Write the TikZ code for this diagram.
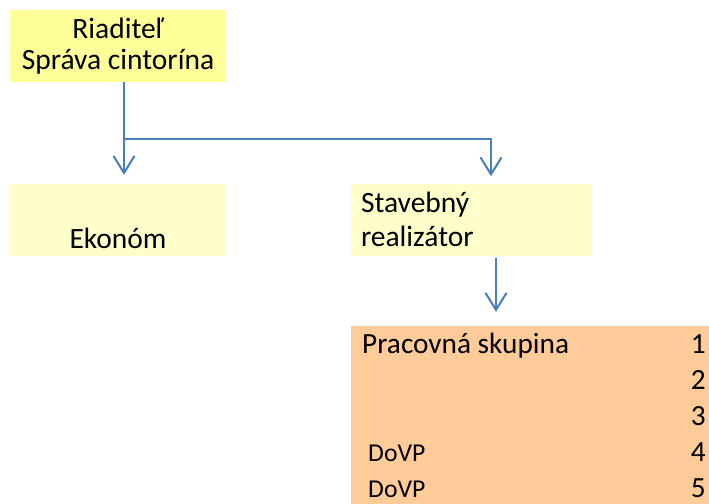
\documentclass[tikz,border=0pt]{standalone}
\usepackage{fontspec}
\setmainfont{Carlito}
\usepackage{tikz}
\usetikzlibrary{arrows.meta}
\definecolor{boss}{HTML}{FFFF99}
\definecolor{staff}{HTML}{FFFFCC}
\definecolor{crew}{HTML}{FFCC99}
\definecolor{wire}{HTML}{4A7EBB}
\tikzstyle{box}   = [inner sep=0pt, minimum height=72pt, font=\fontsize{29.5}{34}\selectfont]
\tikzstyle{row}   = [inner sep=0pt, font=\fontsize{29.3}{36}\selectfont]
\tikzstyle{arrow} = [wire, line width=2pt, -{Straight Barb[length=17pt,width=21pt]}]

\begin{document}
\begin{tikzpicture}[x=1pt,y=-1pt]
  \useasboundingbox (0,0) rectangle (709,503);

  %put the boxes on top
  \node[box, fill=boss, minimum width=216pt, align=center] (riad) at (118,46) {Riaditeľ\\[-3.5pt]Správa cintorína};
  \node[box, fill=staff, minimum width=216pt, align=center] (ekonom) at (118,220) {\strut\\Ekonóm};
  \node[box, fill=staff, text width=221pt, inner xsep=10pt, align=left] (stav) at (471.5,219.5) {Stavebný\\realizátor};

  %put the work group at the bottom
  \node[fill=crew, minimum width=362pt, minimum height=180pt, inner sep=0pt] (skup) at (532,416) {};
  \node[row, anchor=base west] (title) at (362,353) {Pracovná skupina};
  \foreach \n [evaluate=\n as \y using 317+36*\n] in {1,...,5}{
    \node[row, anchor=base east] (num\n) at (706,\y) {\n};
  }
  \node[row, font=\fontsize{25.7}{36}\selectfont, anchor=base west] (dovp4) at (368,461) {DoVP};
  \node[row, font=\fontsize{25.7}{36}\selectfont, anchor=base west] (dovp5) at (368,497) {DoVP};

  \coordinate (split) at (124,139);
  \coordinate (branch) at (491,139);
  \coordinate (drop) at (496,0);

  \draw[arrow, shorten >=9pt] (riad.south -| split) -- (ekonom.north -| split);
  \draw[arrow, shorten >=7pt] (split) -- (branch) -- (stav.north -| branch);
  \draw[arrow, shorten <=2pt, shorten >=14pt] (stav.south -| drop) -- (skup.north -| drop);
\end{tikzpicture}
\end{document}
